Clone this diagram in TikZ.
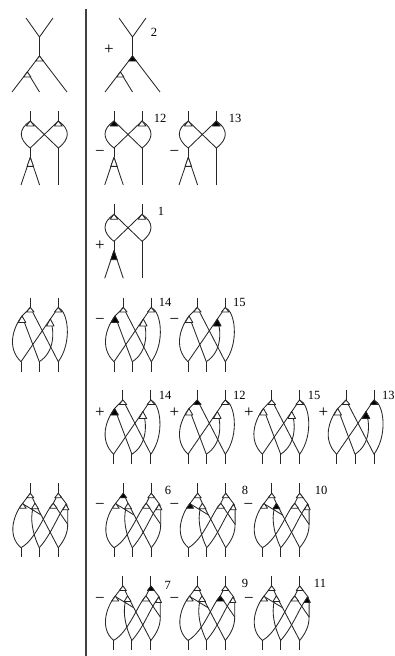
\documentclass[tikz,border=0pt]{standalone}
\usepackage{fontspec}
\setmainfont{Liberation Serif}

\newcommand{\vtx}[5]{\draw[edge,fill=#5] (#1,#2) -- ++(-#4,#3) -- ++(2*#4,0) -- cycle;}
\newcommand{\treeA}[4]{
  \begin{scope}[shift={(#1,#2)}]
  \draw[edge] (-13.5,0) -- (0,19) -- (13.5,0);
  \draw[edge] (0,19) -- (0,38);
  \draw[edge] (27.5,74) -- (0,38) -- (-27.5,74);
  \draw[edge] (-12.2,54) -- (0,74);
  \vtx{0}{38}{5}{3.8}{#3}
  \vtx{-12.2}{54}{5}{3.6}{#4}
  \end{scope}}
\newcommand{\loopB}[5]{
  \begin{scope}[shift={(#1,#2)}]
  \draw[edge] (0,0) -- (0,10);
  \draw[edge] (28,0) -- (28,10);
  \draw[edge] (0,10) -- (28,37);
  \draw[edge] (28,10) -- (0,37);
  \draw[edge] (0,10) .. controls (-12,18) and (-12,28) .. (0,37);
  \draw[edge] (28,10) .. controls (40,18) and (40,28) .. (28,37);
  \draw[edge] (0,37) -- (0,46.4);
  \draw[edge] (28,37) -- (28,74);
  \draw[edge] (-9.3,74) -- (0,46.4) -- (9.3,74);
  \vtx{0}{10}{5}{4}{#3}
  \vtx{28}{10}{5}{4}{#4}
  \vtx{0}{46.4}{9}{3.2}{#5}
  \end{scope}}
\newcommand{\crossC}[6]{
  \begin{scope}[shift={(#1,#2)}]
  \draw[edge] (0,0) -- (0,10);
  \draw[edge] (28,0) -- (28,10);
  \draw[edge] (-9.3,64.2) -- (-9.3,74);
  \draw[edge] (9,64.2) -- (9,74);
  \draw[edge] (28,64.2) -- (28,74);
  \draw[edge] (0,10) -- (28,64.2);
  \draw[edge] (0,10) -- (-8.3,18.5) -- (9,64.2);
  \draw[edge] (-8.3,18.5) .. controls (-17,30) and (-24,50) .. (-9.3,64.2);
  \draw[edge] (28,10) -- (-9.3,64.2);
  \draw[edge] (20,21.5) .. controls (24,33) and (25,54) .. (9,64.2);
  \draw[edge] (28,10) .. controls (38,14) and (42,45) .. (28,64.2);
  \vtx{0}{10}{4.5}{3.8}{#3}
  \vtx{-8.3}{18.5}{6.5}{3.8}{#4}
  \vtx{28}{10}{4.5}{3.8}{#5}
  \vtx{20}{21.5}{7}{3.8}{#6}
  \end{scope}}
\newcommand{\crossD}[8]{
  \begin{scope}[shift={(#1,#2)}]
  \draw[edge] (0,0) -- (0,10);
  \draw[edge] (28,0) -- (28,10);
  \draw[edge] (-9.3,64.4) -- (-9.3,74);
  \draw[edge] (9,64.4) -- (9,74);
  \draw[edge] (28,64.4) -- (28,74);
  \draw[edge] (-7.6,20) -- (0,10) -- (4.7,20) -- (28,64.4);
  \draw[edge] (-7.6,20) .. controls (-16,30) and (-24,52) .. (-9.3,64.4);
  \draw[edge] (-7.6,20.5) -- (10.8,31.7);
  \draw[edge] (4.7,20) .. controls (-1,30) and (1,48) .. (9,64.4);
  \draw[edge] (23,20) -- (28,10) -- (36.4,21) -- (37.4,25) -- (37.4,41) .. controls (37.4,50) and (34,57) .. (28,64.4);
  \draw[edge] (23,20) -- (37.4,41);
  \draw[edge] (23,20) .. controls (15,28) and (6,56) .. (-9.3,64.4);
  \draw[edge] (36.4,21) .. controls (29,28) and (22,50) .. (9,64.4);
  \vtx{0}{10}{4.5}{3.5}{#3}
  \vtx{-7.6}{20}{5}{3.5}{#4}
  \vtx{4.7}{20}{5.5}{3.5}{#5}
  \vtx{28}{10}{4.5}{3.5}{#6}
  \vtx{23}{20}{5}{3.8}{#7}
  \vtx{35.6}{21}{5.5}{3}{#8}
  \end{scope}}

\begin{document}
\begin{tikzpicture}[
  x=1pt, y=-1pt,
  edge/.style={draw=black!85, line width=0.85pt, line join=round},
  rule/.style={draw=black!75, line width=1.3pt},
  num/.style={font=\fontsize{12.5}{14}\selectfont, inner sep=0pt},
  sign/.style={font=\fontsize{17}{18}\selectfont, inner sep=0pt, text height=8.5pt, text depth=0pt},
]
\useasboundingbox (0,0) rectangle (395,656);
\coordinate (ruletop) at (86,9);
\coordinate (rulebot) at (86,656);
\draw[rule] (ruletop) -- (rulebot);

\treeA{39.5}{18}{white}{white}
\treeA{132.5}{18}{black}{white}
\node[sign] (s2) at (109,50.7) {+};
\node[num] (n2) at (154,32.3) {2};

\loopB{30.3}{111}{white}{white}{white}
\loopB{114}{111}{black}{white}{white}
\loopB{188.3}{111}{white}{black}{white}
\node[sign] (s12) at (100,152.7) {−};
\node[num] (n12) at (160,118) {12};
\node[sign] (s13) at (174.3,152.7) {−};
\node[num] (n13) at (235,118.3) {13};

\loopB{114}{204.3}{white}{white}{black}
\node[sign] (s1) at (100,246) {+};
\node[num] (n1) at (161,211.7) {1};

\crossC{30.3}{297.5}{white}{white}{white}{white}
\crossC{123.3}{297.5}{white}{black}{white}{white}
\crossC{197.3}{297.5}{white}{white}{white}{black}
\node[sign] (s14a) at (100,320) {−};
\node[num] (n14a) at (165,302.3) {14};
\node[sign] (s15a) at (174.3,320) {−};
\node[num] (n15a) at (239.3,302.3) {15};

\crossC{122.9}{390}{white}{black}{white}{white}
\crossC{197.3}{390}{black}{white}{white}{white}
\crossC{271.7}{390}{white}{white}{white}{white}
\crossC{346}{390}{white}{white}{black}{black}
\node[sign] (s14b) at (100,413.3) {+};
\node[num] (n14b) at (165,395) {14};
\node[sign] (s12b) at (174.3,413.3) {+};
\node[num] (n12b) at (239.3,395) {12};
\node[sign] (s15b) at (249,413.3) {+};
\node[num] (n15b) at (314,395) {15};
\node[sign] (s13b) at (323.3,413.3) {+};
\node[num] (n13b) at (388.3,395) {13};

\crossD{30.3}{483.3}{white}{white}{white}{white}{white}{white}
\crossD{123.3}{483.3}{black}{white}{white}{white}{white}{white}
\crossD{197.7}{483.3}{white}{black}{white}{white}{white}{white}
\crossD{271.7}{483.3}{white}{white}{black}{white}{white}{white}
\node[sign] (s6) at (100,505.7) {−};
\node[num] (n6) at (168,490.7) {6};
\node[sign] (s8) at (174.3,505.7) {−};
\node[num] (n8) at (245,490.7) {8};
\node[sign] (s10) at (248.3,505.7) {−};
\node[num] (n10) at (321,490.7) {10};

\crossD{122.9}{576}{white}{white}{white}{black}{white}{white}
\crossD{197.3}{576}{white}{white}{white}{white}{black}{white}
\crossD{271.7}{576}{white}{white}{white}{white}{white}{black}
\node[sign] (s7) at (100,599) {−};
\node[num] (n7) at (167.7,585.7) {7};
\node[sign] (s9) at (174.3,599) {−};
\node[num] (n9) at (245,583.3) {9};
\node[sign] (s11) at (249,599) {−};
\node[num] (n11) at (320,583.3) {11};
\end{tikzpicture}
\end{document}
